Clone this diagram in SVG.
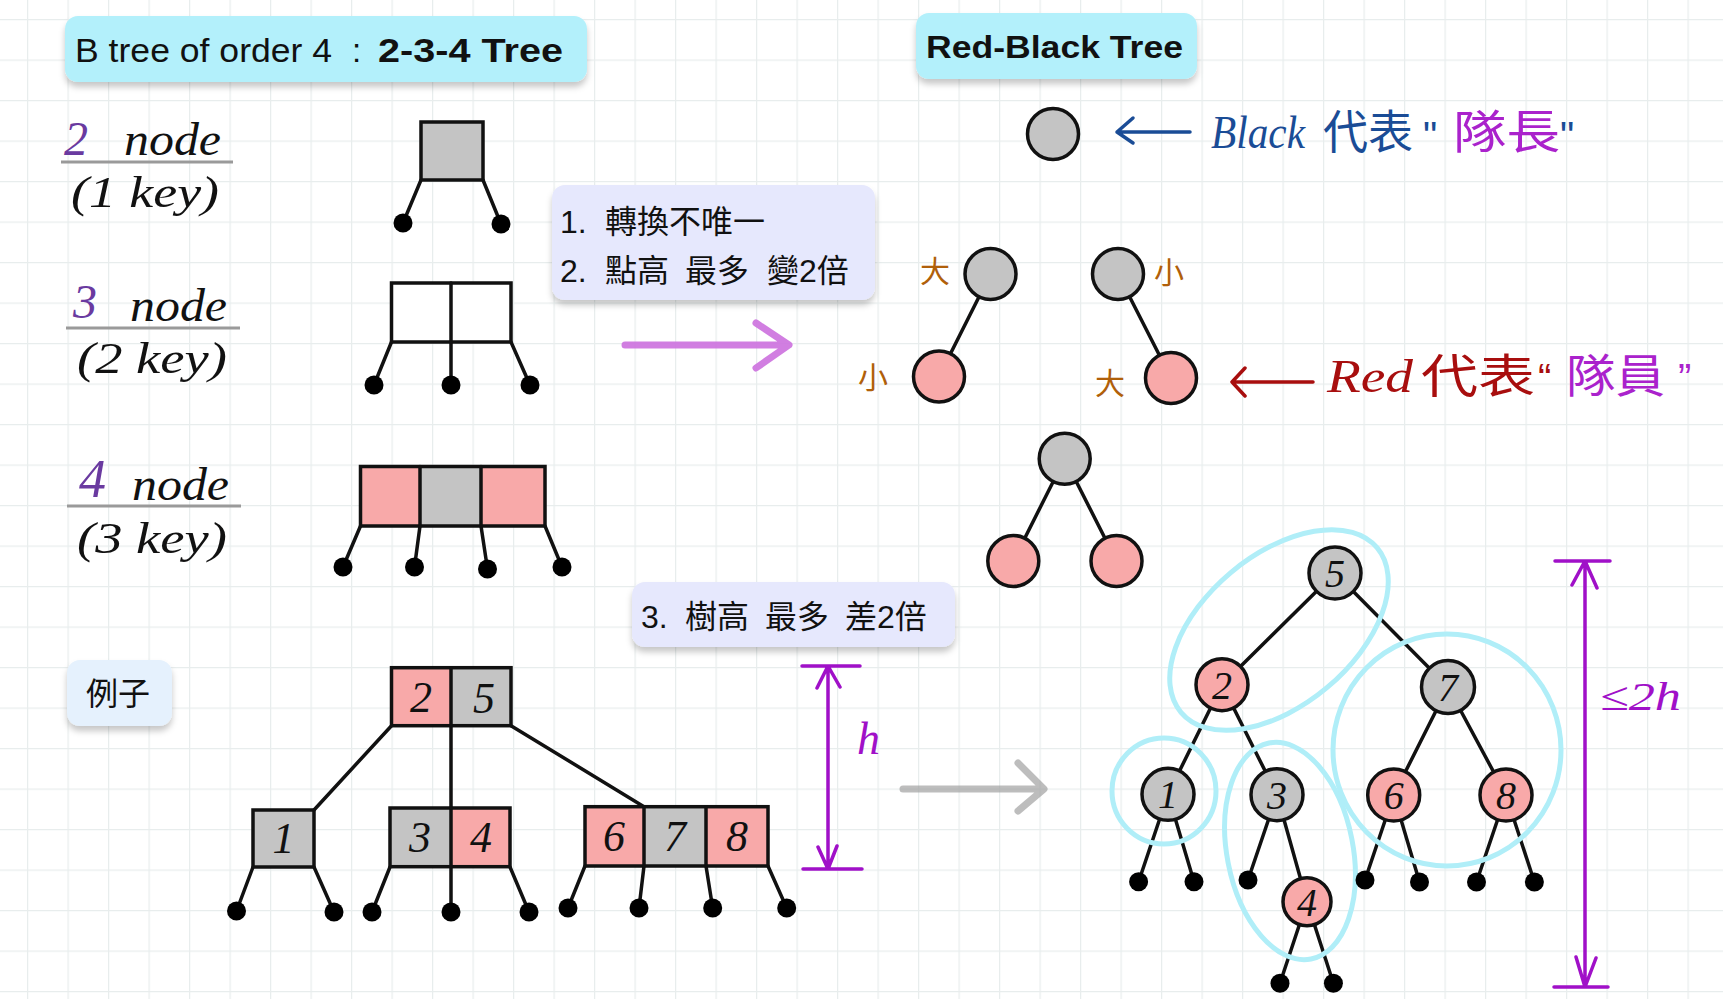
<svg xmlns="http://www.w3.org/2000/svg" width="1723" height="999" viewBox="0 0 1723 999">
<defs>
<pattern id="grid" patternUnits="userSpaceOnUse" x="27" y="19" width="40.5" height="40.5">
<path d="M0 0.5 H40.5 M0.5 0 V40.5" fill="none" stroke="#e8eded" stroke-width="1.5"/>
</pattern>
<filter id="shadow" x="-10%" y="-20%" width="120%" height="160%">
<feDropShadow dx="0" dy="5" stdDeviation="3" flood-color="#000" flood-opacity="0.22"/>
</filter>
<style>
.ui{font-family:"Liberation Sans","Noto Sans CJK TC",sans-serif;fill:#111}
.cjk{font-family:"Noto Sans CJK TC","Liberation Sans",sans-serif;fill:#111}
.hw{font-family:"Liberation Serif","Noto Sans CJK TC",serif;font-style:italic;fill:#111}
.hwc{font-family:"Noto Sans CJK TC",sans-serif}
.q{font-family:"Liberation Sans",sans-serif}
.box{stroke:#111;stroke-width:3.5}
.g{fill:#c4c4c4}
.p{fill:#f8a9a9}
.w{fill:#fff}
.ln{stroke:#111;stroke-width:3.5;fill:none;stroke-linecap:round}
.dot{fill:#000}
.rb{stroke:#111;stroke-width:3.5}
.halo{fill:none;stroke:#b0eef8;stroke-width:5}
.dim{stroke:#a010c8;stroke-width:3.5;fill:none;stroke-linecap:round;stroke-linejoin:round}
.num{font-family:"Liberation Serif",serif;font-style:italic;font-size:44px;fill:#111;text-anchor:middle}
.cn{font-size:40px}
.brown{font-family:"Noto Sans CJK TC",sans-serif;font-size:30px;fill:#b0600a}
</style>
</defs>
<rect width="1723" height="999" fill="#fff"/>
<rect width="1723" height="999" fill="url(#grid)"/>

<g id="title-btree">
<rect x="65" y="16" width="522" height="66" rx="13" fill="#b3f0fb" filter="url(#shadow)"/>
<text class="ui" x="75" y="62" font-size="33"><tspan textLength="267" lengthAdjust="spacingAndGlyphs">B tree of order 4 </tspan><tspan x="352">: </tspan><tspan x="378" font-weight="bold" textLength="185" lengthAdjust="spacingAndGlyphs">2-3-4 Tree</tspan></text>
</g>
<g id="title-rbtree">
<rect x="916" y="13" width="281" height="66" rx="13" fill="#b3f0fb" filter="url(#shadow)"/>
<text class="ui" x="926" y="58" font-size="31" font-weight="bold" textLength="257" lengthAdjust="spacingAndGlyphs">Red-Black Tree</text>
</g>

<g id="label-2node">
<text class="hw" x="64" y="155" font-size="48" style="fill:#6a3aa0">2</text>
<text class="hw" x="124" y="155" font-size="46" textLength="97" lengthAdjust="spacingAndGlyphs">node</text>
<line x1="61" y1="162" x2="233" y2="162" stroke="#9a9a9a" stroke-width="3"/>
<text class="hw" x="71" y="207" font-size="44" textLength="148" lengthAdjust="spacingAndGlyphs">(1 key)</text>
</g>
<g id="label-3node">
<text class="hw" x="73" y="318" font-size="48" style="fill:#6a3aa0">3</text>
<text class="hw" x="130" y="321" font-size="46" textLength="97" lengthAdjust="spacingAndGlyphs">node</text>
<line x1="66" y1="328" x2="240" y2="328" stroke="#9a9a9a" stroke-width="3"/>
<text class="hw" x="77" y="373" font-size="44" textLength="150" lengthAdjust="spacingAndGlyphs">(2 key)</text>
</g>
<g id="label-4node">
<text class="hw" x="79" y="497" font-size="54" style="fill:#6a3aa0">4</text>
<text class="hw" x="132" y="500" font-size="46" textLength="97" lengthAdjust="spacingAndGlyphs">node</text>
<line x1="67" y1="506" x2="241" y2="506" stroke="#9a9a9a" stroke-width="3"/>
<text class="hw" x="77" y="553" font-size="44" textLength="150" lengthAdjust="spacingAndGlyphs">(3 key)</text>
</g>

<g id="connectors">
<path class="ln" d="M421 180 L403 223 M483 180 L501 224"/>
<path class="ln" d="M391.5 342 L374 385 M451 342 L451 385 M511 342 L530 385"/>
<path class="ln" d="M360.5 526 L343 567 M420 526 L414.5 567 M481 526 L487.5 569 M545 526 L562 567"/>
<path class="ln" d="M391.5 725.7 L314 810 M451 725.7 L451 912 M511 725.7 L644 806.7"/>
<path class="ln" d="M253 867 L236.5 911 M314 867 L334 912 M390 867 L372 912 M510 867 L529 912"/>
<path class="ln" d="M585 866 L568 908 M644 866 L639 908 M706 866 L712.7 908 M768 866 L786.7 908"/>
<path class="ln" d="M990.5 274 L939 376.5 M1118 274 L1171 378 M1064.7 458.7 L1013.3 561 M1064.7 458.7 L1116.5 561"/>
<path class="ln" d="M1335 573 L1222 684.7 M1335 573 L1448 687 M1222 684.7 L1168 794.3 M1222 684.7 L1277 794.7 M1448 687 L1393.7 795 M1448 687 L1506 795 M1277 794.7 L1307 901.7"/>
<path class="ln" d="M1168 794.3 L1138.6 881.7 M1168 794.3 L1194 881.7 M1277 794.7 L1248 880 M1307 901.7 L1280 983.3 M1307 901.7 L1333.4 983.3 M1393.7 795 L1365 880 M1393.7 795 L1419.5 882 M1506 795 L1476.5 882 M1506 795 L1534.4 882"/>
<path d="M625 345 H788 M756 323 L789 345 L756 368" fill="none" stroke="#cc70de" stroke-opacity="0.9" stroke-width="7" stroke-linecap="round" stroke-linejoin="round"/>
<path d="M903 789 H1043 M1018 763 L1044 789 L1018 811" fill="none" stroke="#9a9a9a" stroke-opacity="0.65" stroke-width="7" stroke-linecap="round" stroke-linejoin="round"/>
<path d="M1190 132 H1117 M1133 118 L1117 132 L1133 143" fill="none" stroke="#1a4c96" stroke-width="3.5" stroke-linecap="round" stroke-linejoin="round"/>
<path d="M1313 382 H1232 M1245 368 L1232 382 L1245 396" fill="none" stroke="#a80e0e" stroke-width="3.5" stroke-linecap="round" stroke-linejoin="round"/>
<path class="dim" d="M802 666 H860 M803 869 H862 M828 666 V869 M817 688 L828 666 L840 687 M818 847 L828 869 L837 846"/>
<path class="dim" d="M1555 561 H1610 M1554 987 H1608 M1585 561 V987 M1572 585 L1585 561 L1597 588 M1576 957 L1585 987 L1596 958"/>
</g>

<g id="bnode-2">
<rect class="box g" x="421" y="122" width="62" height="58"/>
</g>
<g id="bnode-3">
<rect class="box w" x="391.5" y="283" width="119.5" height="59"/>
<line class="ln" x1="451" y1="283" x2="451" y2="342"/>
</g>
<g id="bnode-4">
<rect class="p" x="360.5" y="466.5" width="59.5" height="59.5"/>
<rect class="g" x="420" y="466.5" width="61" height="59.5"/>
<rect class="p" x="481" y="466.5" width="64" height="59.5"/>
<rect class="box" fill="none" x="360.5" y="466.5" width="184.5" height="59.5"/>
<path class="ln" d="M420 466.5 V526 M481 466.5 V526"/>
</g>

<g id="bleaves">
<circle class="dot" cx="403" cy="223" r="9.5"/><circle class="dot" cx="501" cy="224" r="9.5"/>
<circle class="dot" cx="374" cy="385" r="9.5"/><circle class="dot" cx="451" cy="385" r="9.5"/><circle class="dot" cx="530" cy="385" r="9.5"/>
<circle class="dot" cx="343" cy="567" r="9.5"/><circle class="dot" cx="414.5" cy="567" r="9.5"/><circle class="dot" cx="487.5" cy="569" r="9.5"/><circle class="dot" cx="562" cy="567" r="9.5"/>
<circle class="dot" cx="236.5" cy="911" r="9.5"/><circle class="dot" cx="334" cy="912" r="9.5"/><circle class="dot" cx="372" cy="912" r="9.5"/><circle class="dot" cx="451" cy="912" r="9.5"/><circle class="dot" cx="529" cy="912" r="9.5"/>
<circle class="dot" cx="568" cy="908" r="9.5"/><circle class="dot" cx="639" cy="908" r="9.5"/><circle class="dot" cx="712.7" cy="908" r="9.5"/><circle class="dot" cx="786.7" cy="908" r="9.5"/>
</g>

<g id="note-1-2">
<rect x="552" y="185" width="323" height="115" rx="13" fill="#e6e8fd" filter="url(#shadow)"/>
<text class="ui" font-size="32"><tspan x="560" y="233">1. </tspan><tspan class="hwc" x="605" y="233">轉換不唯一</tspan></text>
<text class="ui" font-size="32"><tspan x="560" y="282">2. </tspan><tspan x="605" y="282">點高 </tspan><tspan x="685" y="282">最多 </tspan><tspan x="767" y="282">變2倍</tspan></text>
</g>
<g id="note-3">
<rect x="632" y="582" width="323" height="65" rx="13" fill="#e6e8fd" filter="url(#shadow)"/>
<text class="ui" font-size="32"><tspan x="641" y="628">3. </tspan><tspan x="685" y="628">樹高 </tspan><tspan x="765" y="628">最多 </tspan><tspan x="845" y="628">差2倍</tspan></text>
</g>
<g id="note-example">
<rect x="67" y="660" width="105" height="66" rx="13" fill="#e5f1fd" filter="url(#shadow)"/>
<text class="cjk" x="86" y="705" font-size="32">例子</text>
</g>

<g id="bt-root">
<rect class="p" x="391.5" y="667.7" width="59.5" height="58"/>
<rect class="g" x="451" y="667.7" width="60" height="58"/>
<rect class="box" fill="none" x="391.5" y="667.7" width="119.5" height="58"/>
<line class="ln" x1="451" y1="667.7" x2="451" y2="725.7"/>
<text class="num" x="421" y="712">2</text><text class="num" x="484" y="713">5</text>
</g>
<g id="bt-1">
<rect class="box g" x="253" y="810" width="61" height="57"/>
<text class="num" x="283.5" y="853">1</text>
</g>
<g id="bt-34">
<rect class="g" x="390" y="808" width="61" height="58.7"/>
<rect class="p" x="451" y="808" width="59" height="58.7"/>
<rect class="box" fill="none" x="390" y="808" width="120" height="58.7"/>
<line class="ln" x1="451" y1="808" x2="451" y2="866.7"/>
<text class="num" x="420" y="852">3</text><text class="num" x="481" y="852">4</text>
</g>
<g id="bt-678">
<rect class="p" x="585" y="806.7" width="59" height="59.3"/>
<rect class="g" x="644" y="806.7" width="62" height="59.3"/>
<rect class="p" x="706" y="806.7" width="62" height="59.3"/>
<rect class="box" fill="none" x="585" y="806.7" width="183" height="59.3"/>
<path class="ln" d="M644 806.7 V866 M706 806.7 V866"/>
<text class="num" x="614" y="851">6</text><text class="num" x="675" y="851">7</text><text class="num" x="737" y="851">8</text>
</g>
<g id="label-h">
<text class="hw" x="857" y="754" font-size="46" style="fill:#a010c8">h</text>
</g>

<g id="rb-black-legend">
<circle class="rb g" cx="1053" cy="134" r="25.5"/>
<text x="1211" y="148" font-size="46" font-family="Liberation Serif" font-style="italic" style="fill:#1a4c96" textLength="94" lengthAdjust="spacingAndGlyphs">Black</text>
<text x="1323" y="148" font-size="46" class="hwc" style="fill:#1a4c96" textLength="90" lengthAdjust="spacingAndGlyphs">代表</text>
<text x="1423" y="150" font-size="40" class="q" style="fill:#1a4c96">"</text>
<text x="1453" y="148" font-size="46" class="hwc" style="fill:#aa22cc" textLength="107" lengthAdjust="spacingAndGlyphs">隊長</text>
<text x="1560" y="150" font-size="40" class="q" style="fill:#1a4c96">"</text>
</g>
<g id="rb-red-legend">
<text x="1327" y="392" font-size="46" font-family="Liberation Serif" font-style="italic" style="fill:#a80e0e" textLength="86" lengthAdjust="spacingAndGlyphs">Red</text>
<text x="1421" y="392" font-size="46" class="hwc" style="fill:#a80e0e" textLength="114" lengthAdjust="spacingAndGlyphs">代表</text>
<text x="1538" y="392" font-size="40" class="q" style="fill:#a80e0e">“</text>
<text x="1566" y="392" font-size="46" class="hwc" style="fill:#aa22cc" textLength="99" lengthAdjust="spacingAndGlyphs">隊員</text>
<text x="1678" y="392" font-size="40" class="q" style="fill:#aa22cc">”</text>
</g>

<g id="rb-a">
<circle class="rb g" cx="990.5" cy="274" r="25.5"/>
<circle class="rb p" cx="939" cy="376.5" r="25.5"/>
<text class="brown" x="920" y="282">大</text>
<text class="brown" x="858" y="388">小</text>
</g>
<g id="rb-b">
<circle class="rb g" cx="1118" cy="274" r="25.5"/>
<circle class="rb p" cx="1171" cy="378" r="25.5"/>
<text class="brown" x="1154" y="283">小</text>
<text class="brown" x="1095" y="394">大</text>
</g>
<g id="rb-c">
<circle class="rb g" cx="1064.7" cy="458.7" r="25.5"/>
<circle class="rb p" cx="1013.3" cy="561" r="25.5"/>
<circle class="rb p" cx="1116.5" cy="561" r="25.5"/>
</g>

<g id="halos">
<ellipse class="halo" cx="1279" cy="630" rx="128" ry="75" transform="rotate(-40 1279 630)"/>
<ellipse class="halo" cx="1447" cy="750" rx="114" ry="116"/>
<ellipse class="halo" cx="1164" cy="791" rx="52" ry="53"/>
<ellipse class="halo" cx="1290" cy="851" rx="110" ry="63" transform="rotate(79 1290 851)"/>
</g>

<g id="rb-5"><circle class="rb g" cx="1335" cy="573" r="26"/><text class="num cn" x="1335" y="587">5</text></g>
<g id="rb-2"><circle class="rb p" cx="1222" cy="684.7" r="26"/><text class="num cn" x="1222" y="699">2</text></g>
<g id="rb-7"><circle class="rb g" cx="1448" cy="687" r="26.5"/><text class="num cn" x="1448" y="701">7</text></g>
<g id="rb-1"><circle class="rb g" cx="1168" cy="794.3" r="26"/><text class="num cn" x="1168" y="808">1</text></g>
<g id="rb-3"><circle class="rb g" cx="1277" cy="794.7" r="26"/><text class="num cn" x="1277" y="809">3</text></g>
<g id="rb-6"><circle class="rb p" cx="1393.7" cy="795" r="26"/><text class="num cn" x="1393.7" y="809">6</text></g>
<g id="rb-8"><circle class="rb p" cx="1506" cy="795" r="26"/><text class="num cn" x="1506" y="809">8</text></g>
<g id="rb-4"><circle class="rb p" cx="1307" cy="901.7" r="24"/><text class="num cn" x="1307" y="916">4</text></g>
<g id="rb-leaves">
<circle class="dot" cx="1138.6" cy="881.7" r="9.5"/><circle class="dot" cx="1194" cy="881.7" r="9.5"/>
<circle class="dot" cx="1248" cy="880" r="9.5"/>
<circle class="dot" cx="1280" cy="983.3" r="9.5"/><circle class="dot" cx="1333.4" cy="983.3" r="9.5"/>
<circle class="dot" cx="1365" cy="880" r="9.5"/><circle class="dot" cx="1419.5" cy="882" r="9.5"/>
<circle class="dot" cx="1476.5" cy="882" r="9.5"/><circle class="dot" cx="1534.4" cy="882" r="9.5"/>
</g>
<g id="label-2h">
<text class="hw" x="1600" y="710" font-size="40" style="fill:#a010c8" textLength="81" lengthAdjust="spacingAndGlyphs">≤2h</text>
</g>
</svg>
